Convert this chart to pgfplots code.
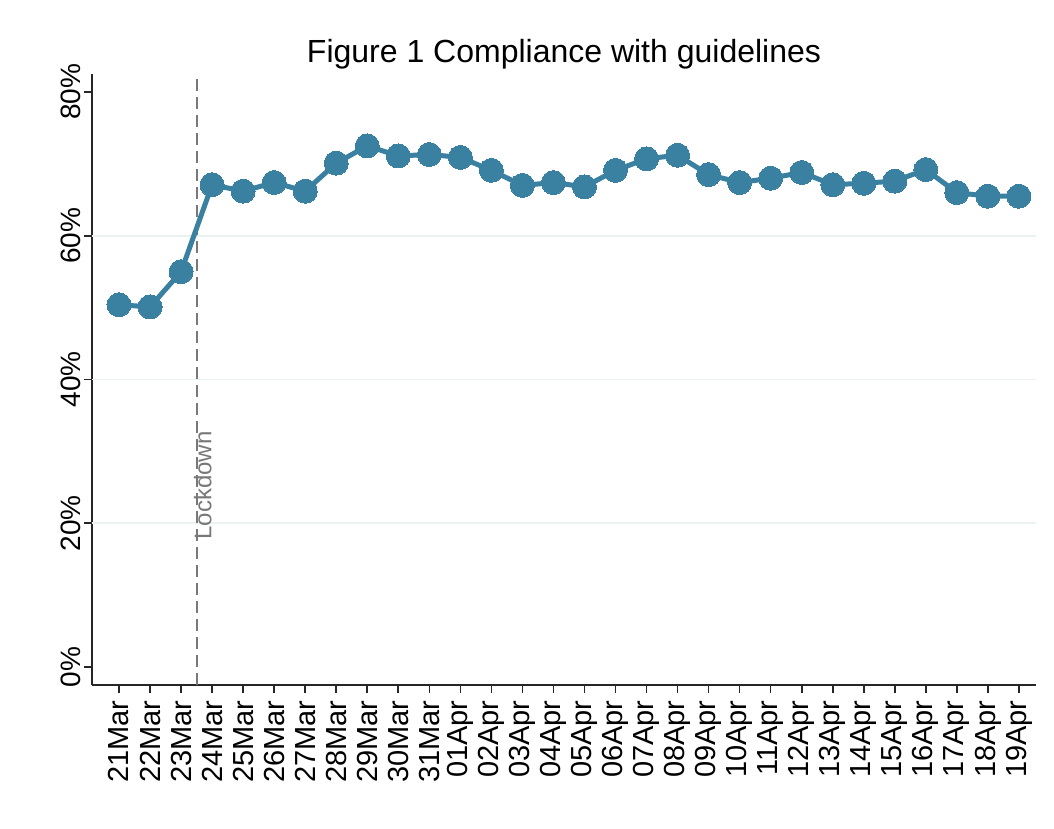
\documentclass[border=0pt]{standalone}
\usepackage{pgfplots}
\pgfplotsset{compat=1.18}
\usepackage{fontspec}
\setmainfont{Liberation Sans}
\definecolor{linec}{RGB}{58,128,161}
\definecolor{gridc}{RGB}{234,242,243}
\definecolor{lockc}{RGB}{120,120,120}
\begin{document}
\begin{tikzpicture}
\begin{axis}[
  scale only axis,
  width=472pt, height=305.5pt,
  xmin=-0.87, xmax=29.55,
  ymin=-2.5, ymax=82.5,
  axis x line*=bottom, axis y line*=left,
  axis line style={black!85, line width=0.8pt},
  tick align=outside,
  major tick length=4pt,
  tick style={black!85, line width=0.8pt},
  xtick={0,...,29},
  xticklabels={21Mar,22Mar,23Mar,24Mar,25Mar,26Mar,27Mar,28Mar,29Mar,30Mar,31Mar,01Apr,02Apr,03Apr,04Apr,05Apr,06Apr,07Apr,08Apr,09Apr,10Apr,11Apr,12Apr,13Apr,14Apr,15Apr,16Apr,17Apr,18Apr,19Apr},
  xticklabel style={rotate=90, anchor=east, font=\fontsize{14.5}{16}\selectfont, inner sep=3.5pt},
  ytick={0,20,40,60,80},
  yticklabels={0\%,20\%,40\%,60\%,80\%},
  yticklabel style={rotate=90, anchor=south, font=\fontsize{14}{16}\selectfont, inner sep=1.5pt},
  /pgf/number format/assume math mode=true,
  title={Figure 1 Compliance with guidelines},
  title style={at={(0.5,1)}, anchor=base, yshift=0pt, font=\fontsize{16}{18}\selectfont},
  clip=false,
]
\draw[gridc, line width=0.8pt] (axis cs:-0.87,20) -- (axis cs:29.55,20);
\draw[gridc, line width=0.8pt] (axis cs:-0.87,40) -- (axis cs:29.55,40);
\draw[gridc, line width=0.8pt] (axis cs:-0.87,60) -- (axis cs:29.55,60);
\draw[lockc, line width=1pt, dash pattern=on 6pt off 3pt] (axis cs:2.5,-2.5) -- (axis cs:2.5,82.5);
\node[rotate=90, anchor=north west, text=lockc, inner sep=0pt, font=\fontsize{12}{14}\selectfont, yshift=1.5pt] at (axis cs:2.5,17.7) {Lockdown};
\addplot[linec, line width=2.5pt, mark=*, mark size=6pt, mark options={fill=linec, draw=linec, line width=0pt}]
coordinates {
(0,50.4) (1,50.1) (2,55.0) (3,67.1) (4,66.2) (5,67.4) (6,66.2) (7,70.1) (8,72.5) (9,71.1)
(10,71.3) (11,70.9) (12,69.1) (13,67.0) (14,67.4) (15,66.8) (16,69.1) (17,70.7) (18,71.2) (19,68.5)
(20,67.4) (21,68.0) (22,68.8) (23,67.1) (24,67.3) (25,67.6) (26,69.2) (27,66.0) (28,65.5) (29,65.5)
};
\end{axis}
\pgfresetboundingbox
\path (-46pt,-72pt) rectangle (481pt,342.5pt);
\end{tikzpicture}
\end{document}
